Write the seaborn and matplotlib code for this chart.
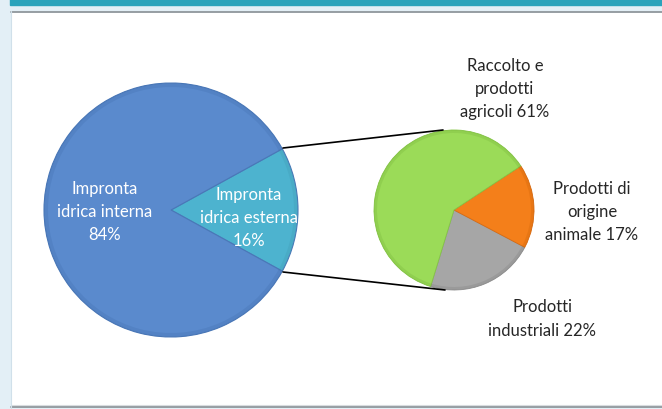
import matplotlib
matplotlib.use("Agg")
import matplotlib.pyplot as plt
import matplotlib.patches as mpatches
import seaborn as sns

# ---- data ----
main_labels = ["Impronta\nidrica esterna\n16%", "Impronta\nidrica interna\n84%"]
main_values = [16, 84]
main_colors = ["#4db3cf", "#5a8acd"]

sub_labels = ["Prodotti\nindustriali 22%", "Prodotti di\norigine\nanimale 17%", "Raccolto e\nprodotti\nagricoli 61%"]
sub_values = [22, 17, 61]
sub_colors = ["#a6a6a6", "#f47f1a", "#9bdb58"]

sns.set_theme(style="white")
plt.rcParams['font.family'] = ['Lato', 'DejaVu Sans']

W, H = 662, 410
fig = plt.figure(figsize=(W / 100, H / 100), dpi=100)
ax = fig.add_axes([0, 0, 1, 1])

def Y(y):
    return H - y

# background decorations
ax.add_patch(mpatches.Rectangle((0, 0), 10, H, color="#e3eff6", zorder=0))
ax.add_patch(mpatches.Rectangle((10, Y(12)), W, 12, color="#e3eff6", zorder=0))
ax.add_patch(mpatches.Rectangle((10, Y(6)), W, 6, color="#2aa3bb", zorder=1))
ax.plot([11, W], [Y(13.3), Y(13.3)], color="#8f979c", lw=1.3, zorder=1)
ax.plot([11, W], [Y(406), Y(406)], color="#d8dcdf", lw=0.8, zorder=1)
ax.plot([11, W], [Y(407.5), Y(407.5)], color="#8f979c", lw=1.3, zorder=1)
ax.add_patch(mpatches.Rectangle((10, 0), W, Y(408.3), color="#e3eff6", zorder=0))
ax.plot([10.5, 10.5], [0, Y(12)], color="#d0e0ea", lw=0.8, zorder=1)

# main pie
c1 = (171, Y(211))
r1 = 127
span1 = main_values[0] / 100 * 360
wedges1, _ = ax.pie(main_values, colors=main_colors, startangle=-span1 / 2,
                    counterclock=True, center=c1, radius=r1,
                    wedgeprops=dict(edgecolor="#4a78b8", linewidth=0.8),
                    frame=True)
# bevel rim
ax.pie(main_values, colors=["#3d8fa8", "#3b67a6"], startangle=-span1 / 2,
       counterclock=True, center=c1, radius=r1,
       wedgeprops=dict(width=4, alpha=0.22, edgecolor="none"), frame=True)

# secondary pie
c2 = (454, Y(211))
r2 = 80
wedges2, _ = ax.pie(sub_values, colors=sub_colors, startangle=-107,
                    counterclock=True, center=c2, radius=r2,
                    wedgeprops=dict(edgecolor="none"), frame=True)
for w, ec in zip(wedges2, ["#8e8e8e", "#d86a10", "#84c444"]):
    w.set_edgecolor(ec)
    w.set_linewidth(0.6)
ax.pie(sub_values, colors=["#707070", "#c05a00", "#6aa830"], startangle=-107,
       counterclock=True, center=c2, radius=r2,
       wedgeprops=dict(width=3, alpha=0.22, edgecolor="none"), frame=True)

# connector lines
ax.plot([283, 443], [Y(149), Y(131)], color="black", lw=1.2, zorder=3)
ax.plot([283, 445], [Y(273), Y(291)], color="black", lw=1.2, zorder=3)

fs = 12
ls = 1.55
ax.text(105, Y(212), main_labels[1], ha="center", va="center", color="white",
        fontsize=fs, linespacing=ls, zorder=5)
ax.text(249, Y(218), main_labels[0], ha="center", va="center", color="white",
        fontsize=fs, linespacing=ls, zorder=5)
ax.text(505, Y(89), sub_labels[2], ha="center", va="center", color="#262626",
        fontsize=fs, linespacing=ls, zorder=5)
ax.text(592, Y(212), sub_labels[1], ha="center", va="center", color="#262626",
        fontsize=fs, linespacing=ls, zorder=5)
ax.text(542, Y(319), sub_labels[0], ha="center", va="center", color="#262626",
        fontsize=fs, linespacing=ls, zorder=5)

ax.set_xlim(0, W)
ax.set_ylim(0, H)
ax.set_aspect("auto")
ax.axis("off")

fig.savefig("out.png", dpi=100)
